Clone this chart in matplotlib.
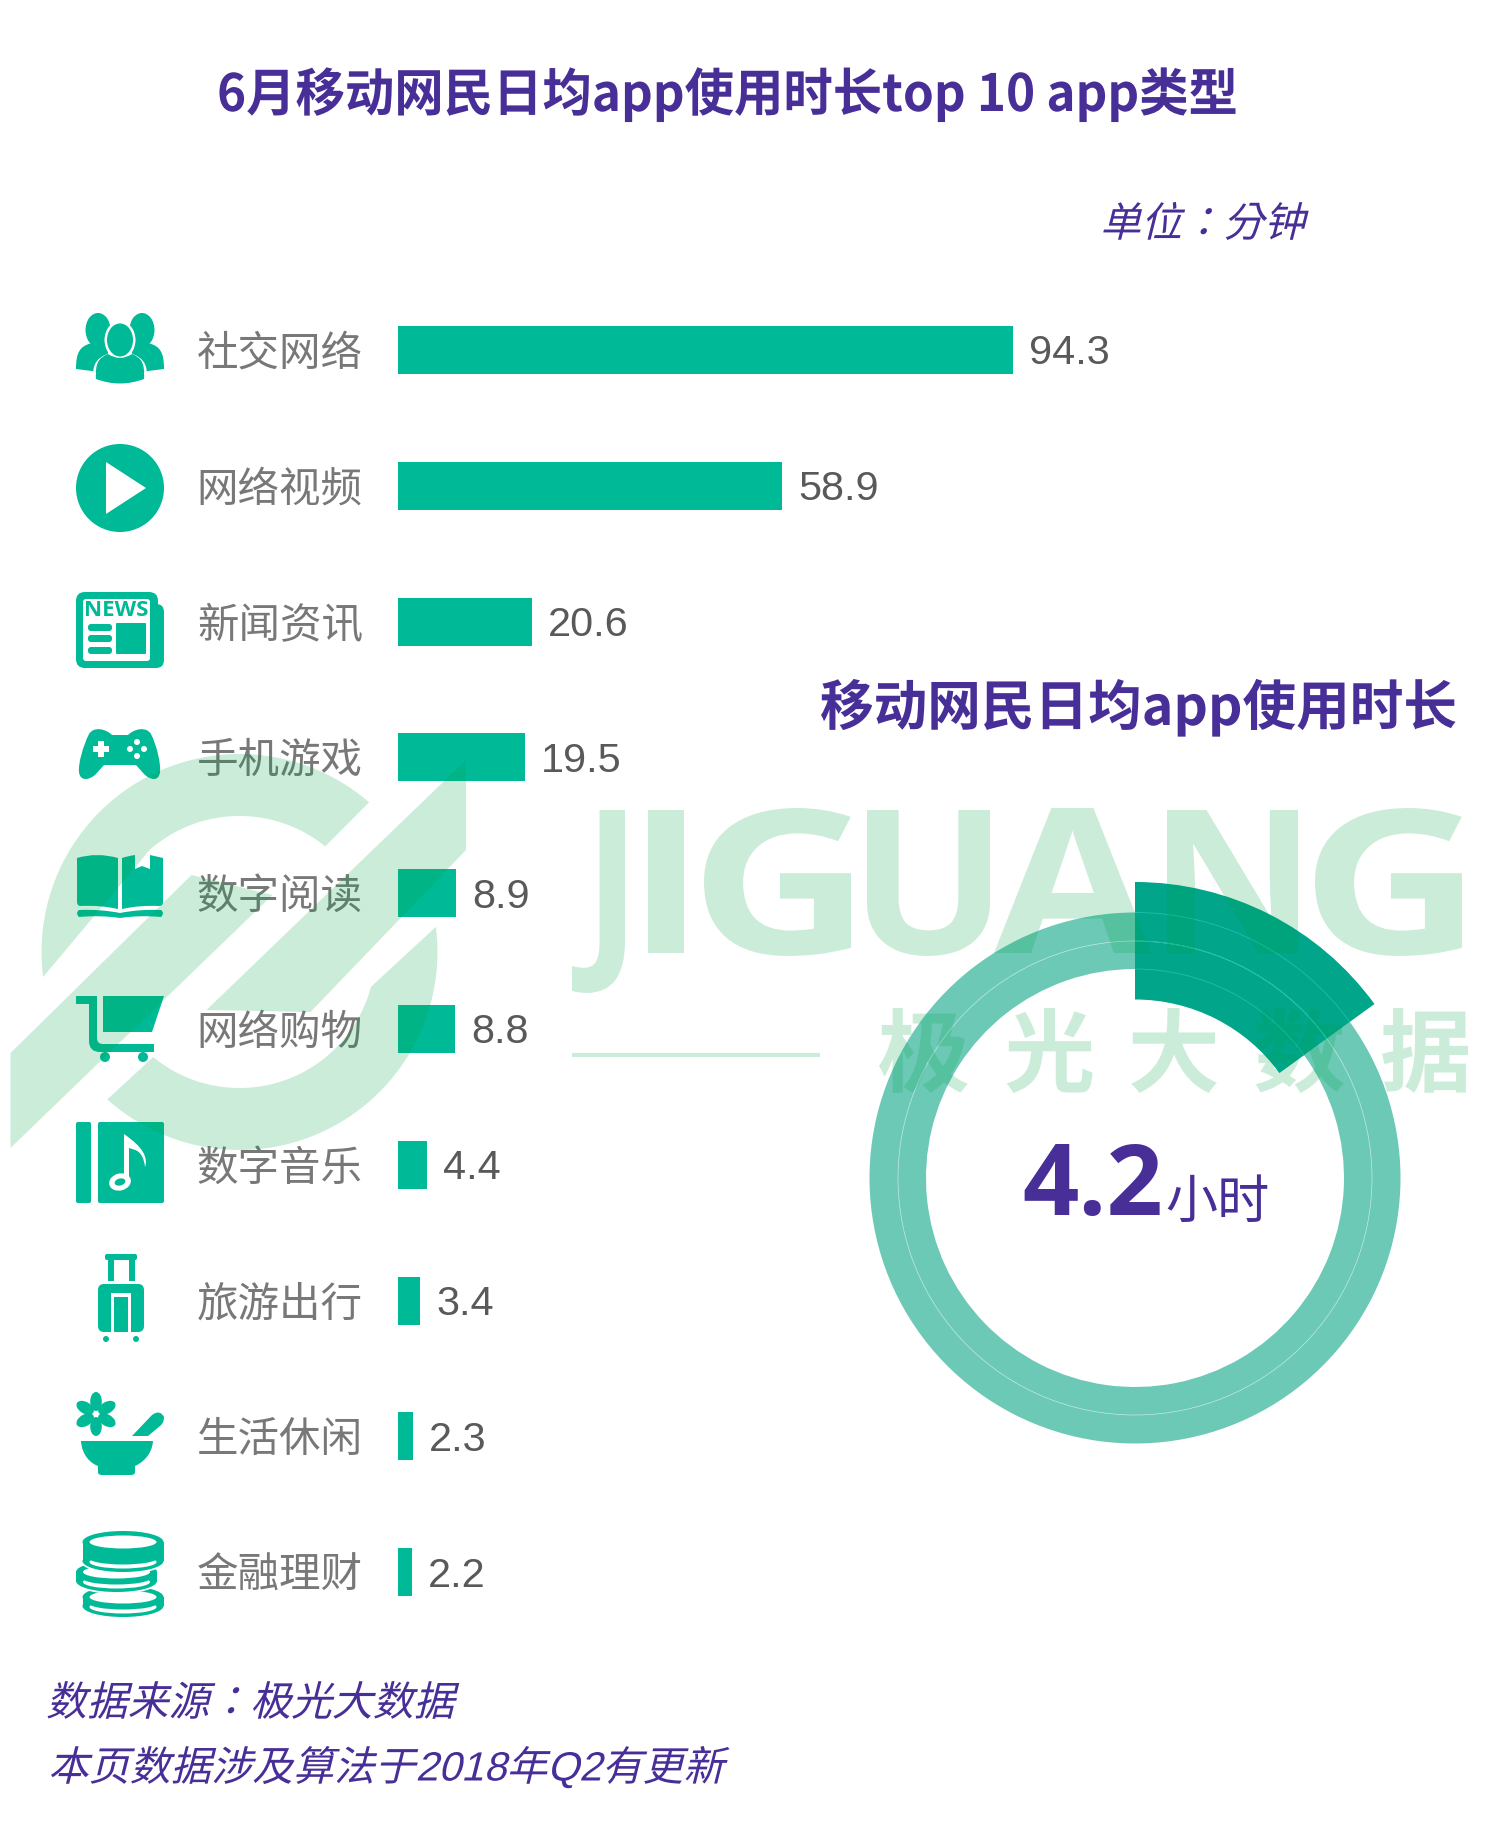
import numpy as np
import matplotlib
matplotlib.use("Agg")
import matplotlib.pyplot as plt
from matplotlib.path import Path
from matplotlib.patches import PathPatch, Rectangle, Ellipse, Circle, Polygon, FancyBboxPatch, Arc
from matplotlib.patheffects import AbstractPathEffect
from matplotlib.transforms import Affine2D

# ---------- data ----------
categories = ["社交网络", "网络视频", "新闻资讯", "手机游戏", "数字阅读",
              "网络购物", "数字音乐", "旅游出行", "生活休闲", "金融理财"]
minutes = [94.3, 58.9, 20.6, 19.5, 8.9, 8.8, 4.4, 3.4, 2.3, 2.2]
ring_shares = [15, 85]
title = "6月移动网民日均app使用时长top 10 app类型"
unit_label = "单位：分钟"
ring_title = "移动网民日均app使用时长"
ring_value = "4.2"
ring_unit = "小时"
source_lines = ["数据来源：极光大数据", "本页数据涉及算法于2018年Q2有更新"]
wm_letters = list("JIGUANG")
wm_chars = list("极光大数据")

# ---------- style ----------
W, H = 1488, 1838
TEAL = "#00B996"
PURPLE = "#482E97"
GREY = "#787878"
VAL = "#595959"
RING = "#6CC9B6"
RING_HI = "#00A58A"
WM = (0.0, 0.63, 0.28)
WM_A = 0.2
CJK = ["Noto Sans CJK SC", "DejaVu Sans"]
MIX = ["Liberation Sans", "Noto Sans CJK TC"]


class Warp(AbstractPathEffect):
    """Slant or stretch a text outline around its own baseline, or fit it to a pixel box."""
    def __init__(self, skew=0, xscale=1, box=None):
        super().__init__()
        self.skew, self.xscale, self.box = skew, xscale, box

    def draw_path(self, renderer, gc, tpath, affine, rgbFace=None):
        m = affine.get_matrix()
        ox, oy = m[0, 2], m[1, 2]
        extra = Affine2D()
        if self.box is not None:
            x0, y0, x1, y1 = self.box
            e = tpath.transformed(affine).get_extents()
            extra.translate(-e.x0, -e.y0).scale((x1 - x0) / e.width, (y1 - y0) / e.height)
            extra.translate(x0, H - y1)
        else:
            extra.translate(-ox, -oy).scale(self.xscale, 1).skew_deg(self.skew, 0).translate(ox, oy)
        renderer.draw_path(gc, tpath, affine + extra, rgbFace)


fig = plt.figure(figsize=(W / 100, H / 100), dpi=100, facecolor="white")


def pixel_axes(z):
    a = fig.add_axes([0, 0, 1, 1], zorder=z)
    a.set_xlim(0, W)
    a.set_ylim(H, 0)
    a.axis("off")
    a.patch.set_visible(False)
    return a


deco = pixel_axes(1)
front = pixel_axes(4)
mark = pixel_axes(6)

# ---------- bars ----------
PX_PER_MIN = 6.52
ROW = 135.8
top_px, bot_px = 350 - ROW / 2, 350 + 9.5 * ROW
left_px = 398
bar_ax = fig.add_axes([left_px / W, 1 - bot_px / H, (W - left_px) / W, (bot_px - top_px) / H], zorder=2)
bar_ax.patch.set_visible(False)
y = np.arange(len(categories))
bar_ax.barh(y, minutes, height=48 / ROW, color=TEAL)
bar_ax.set_xlim(0, (W - left_px) / PX_PER_MIN)
bar_ax.set_ylim(len(categories) - 0.5, -0.5)
bar_ax.set_xticks([])
bar_ax.set_yticks(y, categories, family=CJK, fontsize=29.9, color=GREY)
bar_ax.tick_params(axis="y", length=0, pad=25.3)
for s in bar_ax.spines.values():
    s.set_visible(False)
for yi, v in zip(y, minutes):
    bar_ax.annotate(f"{v:.1f}", (v, yi), xytext=(11.5, -2.4), textcoords="offset points",
                    va="center", ha="left", family="Liberation Sans", fontsize=29.8, color=VAL)

# ---------- ring ----------
cx, cy, box = 1135, 1178, 320
ring_ax = fig.add_axes([(cx - box) / W, 1 - (cy + box) / H, 2 * box / W, 2 * box / H], zorder=2)
ring_ax.patch.set_visible(False)
ring_ax.pie(ring_shares, radius=265.5 / box, startangle=90, counterclock=False, colors=[RING, RING],
            wedgeprops=dict(width=56.5 / box, linewidth=0))
ring_ax.pie(ring_shares, radius=296 / box, startangle=90, counterclock=False, colors=[RING_HI, "none"],
            wedgeprops=dict(width=117.5 / box, linewidth=0))
ring_ax.add_patch(Circle((0, 0), 237 / box, fill=False, ec="white", lw=0.5, alpha=0.6))
span = ring_shares[0] / sum(ring_shares) * 360
for r in (209, 237, 265.5):
    ring_ax.add_patch(Arc((0, 0), 2 * r / box, 2 * r / box, theta1=90 - span, theta2=90, ec="#17BFA6", lw=0.7))
ring_ax.set_xlim(-1, 1)
ring_ax.set_ylim(-1, 1)
ring_ax.axis("off")


# ---------- text ----------
def label(s, x, yb, size, family=CJK, color=PURPLE, weight="normal", ha="left", skew=0, xscale=1):
    t = front.text(x, yb, s, fontsize=size, family=family, color=color, weight=weight, ha=ha, va="baseline")
    if skew or xscale != 1:
        t.set_path_effects([Warp(skew=skew, xscale=xscale)])
    return t


label(title, 217, 111, 37, weight="bold", xscale=0.961)
label(unit_label, 1100, 236.5, 29.5, family=MIX, skew=14)
label(ring_title, 820, 725, 39, weight="bold", xscale=0.99)
label(ring_value, 1022, 1215, 71, family="Open Sans", weight="bold")
label(ring_unit, 1165, 1218, 37.5)
label(source_lines[0], 46, 1715.5, 29.4, family=MIX, skew=14)
label(source_lines[1], 48, 1780.5, 29.4, family=MIX, skew=14)


# ---------- icons ----------
def shape(verts, color=TEAL, ax=deco, z=2):
    """verts: list of ('M'|'L'|'C'|'Q', points...)"""
    vv, cc = [], []
    for item in verts:
        k, pts = item[0], item[1:]
        code = {"M": Path.MOVETO, "L": Path.LINETO, "Q": Path.CURVE3, "C": Path.CURVE4}[k]
        for p in pts:
            vv.append(p)
            cc.append(code)
    vv.append(vv[0])
    cc.append(Path.CLOSEPOLY)
    ax.add_patch(PathPatch(Path(vv, cc), fc=color, ec="none", lw=0, zorder=z))


def rrect(x0, y0, x1, y1, r, color=TEAL, z=2):
    deco.add_patch(FancyBboxPatch((x0 + r, y0 + r), x1 - x0 - 2 * r, y1 - y0 - 2 * r,
                                  boxstyle=f"round,pad={r},rounding_size={r}", fc=color, ec="none", lw=0, zorder=z))


def ell(x, yy, rx, ry, color=TEAL, z=2, angle=0):
    deco.add_patch(Ellipse((x, yy), 2 * rx, 2 * ry, angle=angle, fc=color, ec="none", lw=0, zorder=z))


# people
for hx, sgn in ((98, -1), (142, 1)):
    shape([("M", (120 + sgn * 44, 369)), ("C", (120 + sgn * 44, 352), (120 + sgn * 40, 346), (120 + sgn * 28, 343)),
           ("L", (120 + sgn * 12, 343)), ("L", (120 + sgn * 12, 373))])
    ell(hx, 330, 12.5, 17)
ell(120, 340, 15.5, 19, "white", 3)
shape([("M", (93, 382)), ("C", (92, 362), (96, 356), (120, 350)), ("C", (144, 356), (148, 362), (147, 382))], "white", z=3)
ell(120, 340, 13, 16.5, z=4)
shape([("M", (96, 379)), ("C", (95, 362), (99, 358), (108, 354)), ("Q", (120, 362), (132, 354)),
       ("C", (141, 358), (145, 362), (144, 379)), ("Q", (120, 388), (96, 379))], z=4)
# play
ell(120, 488, 44, 44)
shape([("M", (106, 462)), ("L", (146, 488)), ("L", (106, 514))], "white", z=3)
# news
rrect(76, 592, 158, 668, 9)
rrect(140, 604, 164, 668, 8)
rrect(83, 599, 150, 661, 3, "white", 3)
deco.text(116.5, 610.5, "NEWS", fontsize=16, family="Open Sans", weight="bold", color=TEAL,
          ha="center", va="center", zorder=4)
for yy in (624, 635, 647):
    rrect(88, yy, 112, yy + 7, 3, z=4)
rrect(116, 623, 146, 654, 1, z=4)
# game pad
shape([("M", (112, 735)), ("L", (128, 735)), ("C", (134, 729), (146, 726), (151, 734)),
       ("C", (157, 746), (161, 764), (160, 772)), ("C", (159, 782), (150, 780), (144, 774)),
       ("L", (136, 765)), ("L", (104, 765)), ("L", (96, 774)),
       ("C", (90, 780), (80, 782), (79, 772)), ("C", (78, 764), (83, 746), (89, 734)),
       ("C", (94, 726), (106, 729), (112, 735))])
deco.add_patch(Rectangle((93, 746), 16, 5.5, fc="white", zorder=3))
deco.add_patch(Rectangle((98.2, 741), 5.6, 16, fc="white", zorder=3))
for dx, dy in ((0, -7), (0, 7), (-7, 0), (7, 0)):
    ell(137 + dx, 749 + dy, 3, 3, "white", 3)
# book
shape([("M", (118, 858)), ("Q", (97, 852), (77, 858)), ("L", (77, 902)), ("Q", (77, 906), (81, 906)),
       ("Q", (100, 905), (118, 909))])
shape([("M", (122, 858)), ("Q", (128, 856), (135, 855)), ("L", (135, 869)), ("L", (142, 866)), ("L", (150, 869)),
       ("L", (150, 855)), ("L", (163, 858)), ("L", (163, 902)), ("Q", (163, 906), (159, 906)),
       ("Q", (140, 905), (122, 909))])
shape([("M", (79, 910)), ("Q", (100, 909), (120, 913)), ("Q", (140, 909), (161, 910)), ("Q", (165, 913), (161, 917)),
       ("Q", (140, 915), (120, 918)), ("Q", (100, 915), (79, 917)), ("Q", (75, 913), (79, 910))])
# cart
shape([("M", (76, 996)), ("L", (97, 996)), ("L", (97, 1038)), ("Q", (97, 1044), (103, 1044)), ("L", (154, 1044)),
       ("L", (154, 1052)), ("L", (100, 1052)), ("Q", (89, 1052), (89, 1041)), ("L", (89, 1004)), ("L", (76, 1004))])
shape([("M", (103, 996)), ("L", (164, 996)), ("L", (152, 1032)), ("L", (103, 1032))])
ell(105, 1057, 5, 5)
ell(143, 1057, 5, 5)
# music
rrect(76, 1122, 91, 1203, 2)
rrect(98, 1122, 164, 1203, 2)
ell(120, 1182, 11, 8.5, "white", 3, angle=-15)
ell(120, 1182, 5.5, 3.5, TEAL, 4, angle=-15)
shape([("M", (124, 1134)), ("C", (132, 1140), (150, 1152), (145, 1167)), ("C", (143, 1150), (135, 1150), (129, 1148)),
       ("L", (129, 1183)), ("L", (124, 1183))], "white", z=3)
# luggage
rrect(105, 1254, 137, 1260, 2)
deco.add_patch(Rectangle((108, 1259), 5.5, 22, fc=TEAL, zorder=2))
deco.add_patch(Rectangle((129, 1259), 5.5, 22, fc=TEAL, zorder=2))
rrect(98, 1284, 144, 1332, 6)
shape([("M", (111, 1332)), ("L", (111, 1293)), ("L", (131, 1293)), ("L", (131, 1332)), ("L", (128, 1332)),
       ("L", (128, 1297)), ("L", (114, 1297)), ("L", (114, 1332))], "white", z=3)
ell(106, 1339, 3, 3)
ell(136, 1339, 3, 3)
# mortar and flower
for a_deg in (30, 90, 150, 210, 270, 330):
    a = np.deg2rad(a_deg)
    ell(96 + 12.5 * np.cos(a), 1414 - 12.5 * np.sin(a), 9.5, 5.8, angle=-a_deg)
shape([("M", (81, 1441)), ("L", (153, 1441)), ("C", (152, 1455), (142, 1463), (135, 1466)), ("L", (135, 1472)),
       ("Q", (135, 1475), (131, 1475)), ("L", (102, 1475)), ("Q", (98, 1475), (98, 1472)), ("L", (98, 1466)),
       ("C", (90, 1463), (82, 1455), (81, 1441))])
shape([("M", (132, 1436)), ("L", (152, 1415)), ("Q", (160, 1409), (164, 1417)), ("Q", (164, 1423), (160, 1426)),
       ("L", (148, 1436))])
# coins, bottom one first
for xc, yc, off in ((123, 1597, 9), (116.5, 1572, 9), (123, 1542, 19)):
    rx, ry = 40.5, 11
    ell(xc, yc, rx + 2, ry + 2, "white", 2)
    ell(xc, yc + off, rx + 2, ry + 2, "white", 2)
    ell(xc, yc, rx, ry)
    ell(xc, yc + off, rx, ry)
    deco.add_patch(Rectangle((xc - rx, yc), 2 * rx, off, fc=TEAL, ec="none", zorder=2))
    ell(xc, yc + off + 1, rx - 7, 6.5, "white", 2)
    ell(xc, yc + off - 3, rx - 6, 6.5, TEAL, 2)
    ell(xc, yc, rx - 7, 6.5, "white", 2)


# ---------- watermark (drawn over everything, translucent) ----------
LOGO_C = (239.5, 952)


def arc(r, a0, a1, n=60):
    t = np.deg2rad(np.linspace(a0, a1, n))
    return np.c_[LOGO_C[0] + r * np.cos(t), LOGO_C[1] + r * np.sin(t)]


def ang(x, yy):
    return np.rad2deg(np.arctan2(yy - LOGO_C[1], x - LOGO_C[0]))


def wm_poly(pts):
    mark.add_patch(Polygon(pts, closed=True, fc=WM, alpha=WM_A, ec="none", lw=0))


R_out, R_in = 198, 136
upper = np.r_[arc(R_out, ang(43.5, 977), 360 + ang(368.5, 803)),
              arc(R_in, 360 + ang(325.5, 846), 360 + ang(148.5, 848))]
wm_poly(upper)
lower = np.r_[arc(R_out, ang(434.5, 927), ang(108.5, 1098)), arc(R_in, ang(152.5, 1058), ang(371.5, 987))]
wm_poly(lower)
wm_poly([(10.5, 1053), (191.5, 875), (272.5, 895), (10.5, 1148)])
wm_poly([(206.5, 1010), (466, 760), (466, 850), (310.5, 1012)])
mark.add_patch(Rectangle((572, 1053), 248, 3.5, fc=WM, alpha=WM_A, ec="none", lw=0))

letter_boxes = [(572, 810, 625, 993), (648, 810, 684, 953), (704, 808, 851, 956), (867, 810, 990, 956),
                (994, 808, 1151, 953), (1167, 810, 1298, 953), (1315, 808, 1462, 956)]
for ch, b in zip(wm_letters, letter_boxes):
    t = mark.text((b[0] + b[2]) / 2, b[3], ch, family="Open Sans", weight="bold", fontsize=130,
                  color=WM, alpha=WM_A, ha="center", va="baseline")
    t.set_path_effects([Warp(box=b)])
char_boxes = [(879, 1008, 968, 1093), (1006.5, 1008, 1092.5, 1093), (1131, 1008, 1217, 1093),
              (1255, 1008, 1344, 1093), (1382, 1008, 1468, 1093)]
for ch, b in zip(wm_chars, char_boxes):
    t = mark.text((b[0] + b[2]) / 2, b[3], ch, family=CJK, weight="bold", fontsize=62,
                  color=WM, alpha=WM_A, ha="center", va="baseline")
    t.set_path_effects([Warp(box=b)])

fig.savefig("out.png", dpi=100, facecolor="white")
